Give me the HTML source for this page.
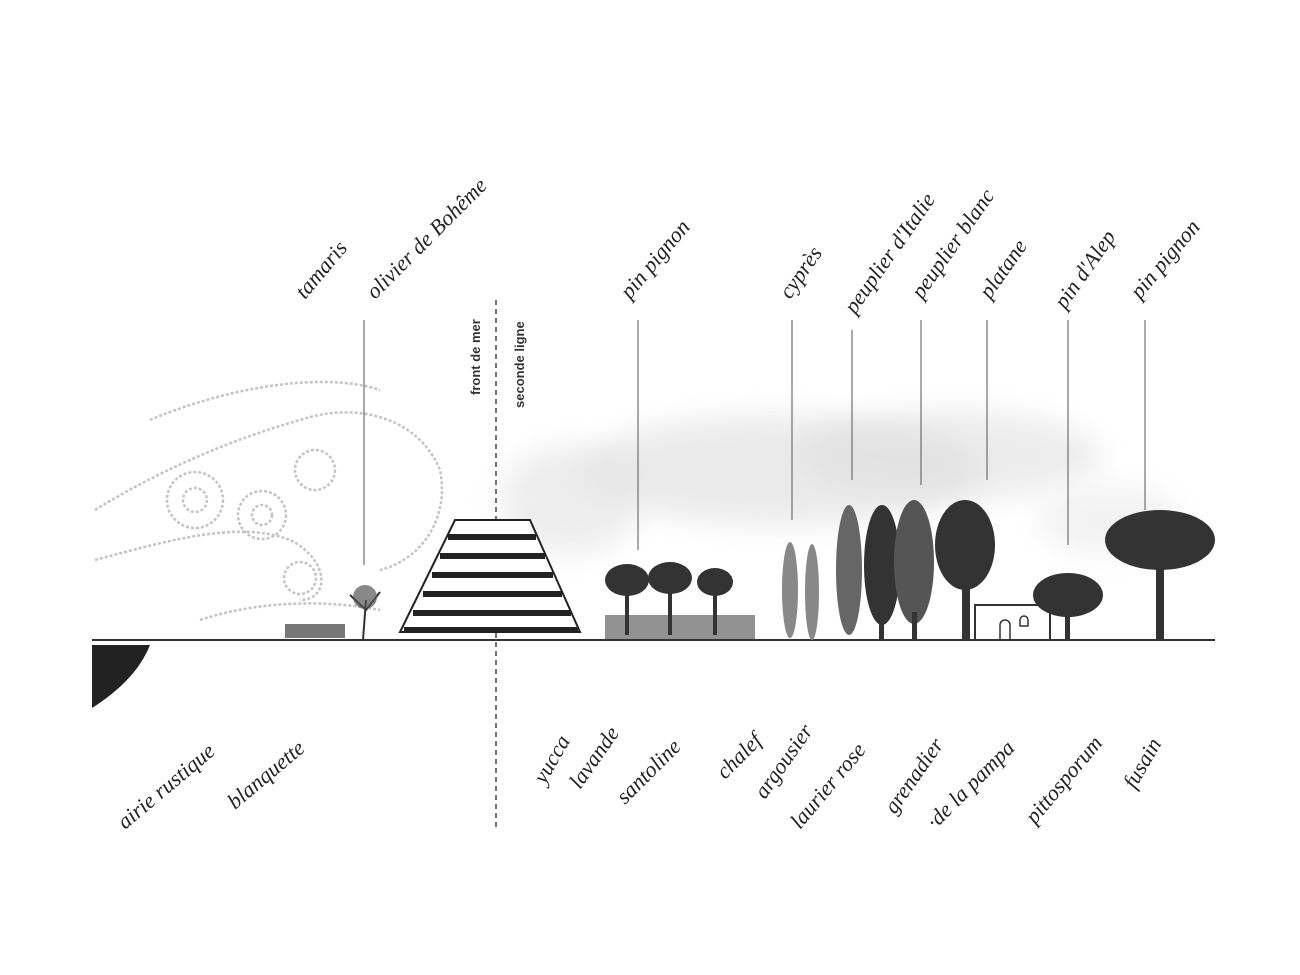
<!DOCTYPE html>
<html><head><meta charset="utf-8"><style>
html,body{margin:0;padding:0;background:#fff;}
svg{display:block}
.h{font-family:"Liberation Serif",serif;font-style:italic;font-size:22px;fill:#222}
</style></head><body>
<svg width="1300" height="975" viewBox="0 0 1300 975" xmlns="http://www.w3.org/2000/svg">
<defs>
<filter id="b" x="-50%" y="-50%" width="200%" height="200%"><feGaussianBlur stdDeviation="14"/></filter>
</defs>
<rect width="1300" height="975" fill="#fff"/>
<!-- background haze -->
<ellipse cx="780" cy="470" rx="200" ry="55" fill="#ddd" filter="url(#b)" opacity="0.6"/>
<ellipse cx="950" cy="455" rx="150" ry="45" fill="#ddd" filter="url(#b)" opacity="0.55"/>
<ellipse cx="570" cy="500" rx="70" ry="55" fill="#e2e2e2" filter="url(#b)" opacity="0.6"/>
<ellipse cx="1110" cy="520" rx="70" ry="35" fill="#e5e5e5" filter="url(#b)" opacity="0.5"/>
<!-- wind swirls -->
<g fill="none" stroke="#c4c4c4" stroke-width="2.5" stroke-dasharray="3 2">
<path d="M95 510 C160 470 230 440 300 420 C360 400 420 420 440 470 C450 520 420 560 380 570"/>
<path d="M95 560 C170 540 240 520 290 540 C330 560 330 600 300 600"/>
<path d="M150 420 C220 390 320 370 380 390"/>
<circle cx="195" cy="500" r="28"/><circle cx="195" cy="500" r="12"/>
<circle cx="262" cy="515" r="24"/><circle cx="262" cy="515" r="10"/>
<circle cx="315" cy="470" r="20"/><circle cx="300" cy="578" r="16"/>
<path d="M200 620 C260 600 330 600 380 610"/>
</g>
<!-- ground -->
<path d="M92 640 L1215 640" stroke="#333" stroke-width="2"/>
<path d="M92 645 L150 645 C140 670 120 690 92 708 Z" fill="#222"/>
<!-- dashed line -->
<line x1="496" y1="300" x2="496" y2="830" stroke="#444" stroke-width="1.5" stroke-dasharray="5 4"/>
<text x="0" y="0" transform="translate(480,395) rotate(-90)" font-family="Liberation Sans,sans-serif" font-size="13" font-weight="bold" fill="#333">front de mer</text>
<text x="0" y="0" transform="translate(524,408) rotate(-90)" font-family="Liberation Sans,sans-serif" font-size="13" font-weight="bold" fill="#333">seconde ligne</text>
<!-- building -->
<path d="M455 520 L530 520 L580 632 L400 632 Z" fill="#fff" stroke="#222" stroke-width="2"/>
<g stroke="#222" stroke-width="6">
<line x1="448" y1="537" x2="536" y2="537"/><line x1="440" y1="556" x2="545" y2="556"/>
<line x1="432" y1="575" x2="553" y2="575"/><line x1="423" y1="594" x2="562" y2="594"/>
<line x1="413" y1="613" x2="571" y2="613"/><line x1="404" y1="630" x2="578" y2="630"/>
</g>
<!-- leader lines -->
<g stroke="#555" stroke-width="1">
<line x1="364" y1="320" x2="364" y2="565"/><line x1="638" y1="320" x2="638" y2="550"/>
<line x1="792" y1="320" x2="792" y2="520"/><line x1="852" y1="330" x2="852" y2="480"/>
<line x1="921" y1="320" x2="921" y2="485"/><line x1="987" y1="320" x2="987" y2="480"/>
<line x1="1068" y1="320" x2="1068" y2="545"/><line x1="1145" y1="320" x2="1145" y2="510"/>
</g>
<!-- plants -->
<g fill="#333">
<path d="M363 640 L366 600 M350 595 L366 610 L380 592" stroke="#333" stroke-width="2" fill="none"/>
<circle cx="365" cy="597" r="12" fill="#555" opacity="0.7"/>
<rect x="285" y="624" width="60" height="14" fill="#777"/>
<rect x="605" y="615" width="150" height="24" fill="#777" opacity="0.8"/>
<ellipse cx="627" cy="580" rx="22" ry="16"/><rect x="625" y="590" width="4" height="45"/>
<ellipse cx="670" cy="578" rx="22" ry="16"/><rect x="668" y="590" width="4" height="45"/>
<ellipse cx="715" cy="582" rx="18" ry="14"/><rect x="713" y="590" width="4" height="45"/>
<ellipse cx="790" cy="590" rx="8" ry="48" fill="#888"/>
<ellipse cx="812" cy="592" rx="7" ry="48" fill="#888"/>
<ellipse cx="849" cy="570" rx="13" ry="65" fill="#666"/>
<ellipse cx="882" cy="565" rx="18" ry="60"/>
<ellipse cx="914" cy="562" rx="20" ry="62" fill="#555"/>
<rect x="879" y="610" width="5" height="30"/><rect x="912" y="612" width="5" height="28"/>
<ellipse cx="965" cy="545" rx="30" ry="45"/><rect x="962" y="580" width="8" height="60"/>
<rect x="975" y="605" width="75" height="35" fill="#fff" stroke="#333" stroke-width="2"/>
<path d="M1000 640 v-15 a5 5 0 0 1 10 0 v15 M1020 620 a4 4 0 0 1 8 0 v6 h-8z" fill="none" stroke="#333" stroke-width="1.5"/>
<ellipse cx="1068" cy="595" rx="35" ry="22"/><rect x="1065" y="605" width="5" height="35"/>
<ellipse cx="1160" cy="540" rx="55" ry="30"/><rect x="1156" y="560" width="8" height="80"/>
</g>
<!-- top labels -->
<g class="h">
<text transform="translate(305,300) rotate(-50)">tamaris</text>
<text transform="translate(375,300) rotate(-45)">olivier de Bohême</text>
<text transform="translate(630,300) rotate(-50)">pin pignon</text>
<text transform="translate(790,300) rotate(-55)">cyprès</text>
<text transform="translate(855,315) rotate(-55)">peuplier d'Italie</text>
<text transform="translate(922,300) rotate(-55)">peuplier blanc</text>
<text transform="translate(990,300) rotate(-55)">platane</text>
<text transform="translate(1065,310) rotate(-55)">pin d'Alep</text>
<text transform="translate(1140,300) rotate(-50)">pin pignon</text>
</g>
<!-- bottom labels -->
<g class="h">
<text transform="translate(125,830) rotate(-40)">airie rustique</text>
<text transform="translate(235,810) rotate(-40)">blanquette</text>
<text transform="translate(545,785) rotate(-60)">yucca</text>
<text transform="translate(580,790) rotate(-55)">lavande</text>
<text transform="translate(625,805) rotate(-45)">santoline</text>
<text transform="translate(725,780) rotate(-45)">chalef</text>
<text transform="translate(765,800) rotate(-55)">argousier</text>
<text transform="translate(800,830) rotate(-50)">laurier rose</text>
<text transform="translate(895,815) rotate(-55)">grenadier</text>
<text transform="translate(935,830) rotate(-45)">·de la pampa</text>
<text transform="translate(1035,825) rotate(-50)">pittosporum</text>
<text transform="translate(1135,790) rotate(-60)">fusain</text>
</g>
</svg>
</body></html>
